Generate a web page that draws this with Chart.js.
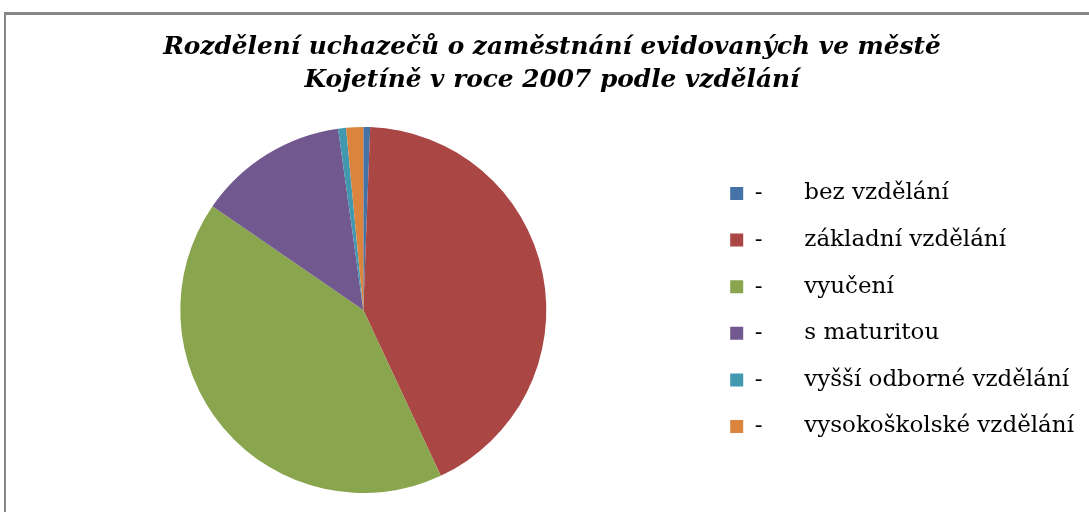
<!DOCTYPE html>
<html lang="cs">
<head>
    <meta charset="UTF-8">
    <title>Rozdělení uchazečů o zaměstnání</title>
    <script src="https://cdn.jsdelivr.net/npm/chart.js"></script>
    <style>
        * {
            margin: 0;
            padding: 0;
            box-sizing: border-box;
        }

        body {
            background-color: #fff;
            width: 1089px;
            height: 512px;
            overflow: hidden;
            position: relative;
        }

        .frame {
            position: absolute;
            left: 4px;
            top: 12px;
            width: 1106px;
            height: 530px;
            border-top: 3px solid #878787;
            border-left: 2px solid #878787;
        }

        .frame canvas {
            display: block;
        }
    </style>
</head>
<body>
    <div class="frame">
        <canvas id="vzdelani" width="1104" height="527"></canvas>
    </div>
    <script>
        const kategorie = ["bez vzdělání", "základní vzdělání", "vyučení", "s maturitou", "vyšší odborné vzdělání", "vysokoškolské vzdělání"];
        // podíl uchazečů v %
        const podily = [0.6, 42.4, 41.5, 13.2, 0.7, 1.5];
        const barvy = ["#4572A7", "#AA4643", "#89A54E", "#71588F", "#4198AF", "#DB843D"];
        const nadpis = ["Rozdělení uchazečů o zaměstnání evidovaných ve městě", "Kojetíně v roce 2007 podle vzdělání"];

        const ctx = document.getElementById("vzdelani").getContext("2d");
        const grafVzdelani = new Chart(ctx, {
            type: "pie",
            data: {
                labels: kategorie,
                datasets: [{
                    data: podily,
                    backgroundColor: barvy,
                    borderWidth: 0,
                    hoverOffset: 0
                }]
            },
            options: {
                responsive: false,
                animation: false,
                layout: {
                    padding: { left: 14, right: 26, top: 0, bottom: 49 }
                },
                plugins: {
                    title: {
                        display: true,
                        text: nadpis,
                        color: "#000",
                        font: { family: "DejaVu Serif", size: 24.8, weight: "bold", style: "italic", lineHeight: 1.33 },
                        padding: { top: 16, bottom: 30 }
                    },
                    legend: {
                        position: "right",
                        fullSize: false,
                        labels: {
                            color: "#000",
                            boxWidth: 13,
                            boxHeight: 13,
                            padding: 23.6,
                            font: { family: "DejaVu Serif", size: 23 },
                            generateLabels: (chart) => kategorie.map((k, i) => ({
                                text: "-\u2003\u2002 " + k,
                                fillStyle: barvy[i],
                                strokeStyle: barvy[i],
                                lineWidth: 0,
                                hidden: false,
                                index: i
                            }))
                        }
                    },
                    tooltip: { enabled: false }
                }
            }
        });
    </script>
</body>
</html>
